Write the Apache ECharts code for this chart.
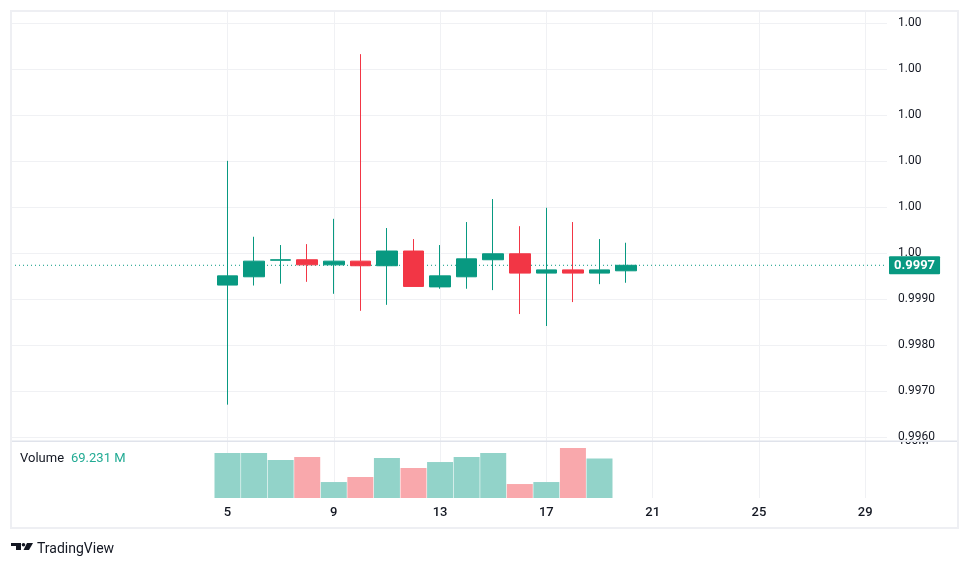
<!DOCTYPE html>
<html>
<head>
<meta charset="utf-8">
<script src="https://cdn.jsdelivr.net/npm/echarts@6/dist/echarts.min.js"></script>
<style>
  html, body { margin: 0; padding: 0; background: #ffffff; }
  #chart { width: 970px; height: 568px; }
</style>
</head>
<body>
<div id="chart"></div>
<script>
// daily candles (day of month)
const days   = [5, 6, 7, 8, 9, 10, 11, 12, 13, 14, 15, 16, 17, 18, 19, 20];
const opens  = [0.99931, 0.99949, 0.99985, 0.99986, 0.99975, 0.99983, 0.99973, 1.00005, 0.99927, 0.99949, 0.99986, 0.99999, 0.99957, 0.99964, 0.99957, 0.99962];
const closes = [0.99951, 0.99983, 0.99986, 0.99975, 0.99983, 0.99973, 1.00005, 0.99928, 0.99951, 0.99988, 0.99999, 0.99957, 0.99964, 0.99957, 0.99964, 0.99974];
const lows   = [0.99671, 0.99930, 0.99934, 0.99938, 0.99912, 0.99875, 0.99888, 0.99928, 0.99923, 0.99923, 0.99920, 0.99868, 0.99842, 0.99894, 0.99933, 0.99936];
const highs  = [1.00201, 1.00036, 1.00018, 1.00020, 1.00075, 1.00433, 1.00055, 1.00031, 1.00018, 1.00068, 1.00118, 1.00059, 1.00099, 1.00068, 1.00031, 1.00023];

// volume in millions (no bar on the last day)
const volumeDays = [5, 6, 7, 8, 9, 10, 11, 12, 13, 14, 15, 16, 17, 18, 19];
const volumes    = [78.9, 78.9, 66.6, 71.9, 28.0, 36.8, 70.1, 52.6, 63.1, 71.9, 78.9, 24.5, 28.0, 87.6, 69.231];

// axis ticks
const xTicks = [5, 9, 13, 17, 21, 25, 29];
const priceTicks = [0.996, 0.997, 0.998, 0.999, 1.000, 1.001, 1.002, 1.003, 1.004, 1.005];
const priceTickLabels = ['0.9960', '0.9970', '0.9980', '0.9990', '1.00', '1.00', '1.00', '1.00', '1.00', '1.00'];
const volumeTicks = [100];
const volumeTickLabels = ['100M'];

const X_MIN = -3.148;
const X_MAX = 29.82;

const UP = '#089981';
const DOWN = '#f23645';
const UP_VOL = '#92d3c9';
const DOWN_VOL = '#f9a8ac';
const GRID = '#f0f1f4';
const TEXT = '#131722';
const FONT = 'Roboto, "Noto Sans", sans-serif';

const chart = echarts.init(document.getElementById('chart'), null, { renderer: 'canvas' });

const candleData = days.map((d, i) => [d, opens[i], closes[i], lows[i], highs[i]]);
const volumeData = volumeDays.map((d, i) => {
  const k = days.indexOf(d);
  return {
    value: [d, volumes[i]],
    itemStyle: { color: closes[k] >= opens[k] ? UP_VOL : DOWN_VOL }
  };
});
const lastClose = closes[closes.length - 1];
const lastVolume = volumes[volumes.length - 1];

function labelFor(ticks, labels) {
  return function (v) {
    let best = 0;
    ticks.forEach((t, i) => { if (Math.abs(t - v) < Math.abs(ticks[best] - v)) best = i; });
    return labels[best];
  };
}

const option = {
  animation: false,
  backgroundColor: '#ffffff',
  textStyle: { fontFamily: FONT },
  grid: [
    { left: 11, right: 83, top: 11, height: 430 },
    { left: 11, right: 83, top: 441, height: 57 }
  ],
  xAxis: [
    {
      type: 'value', gridIndex: 0, min: X_MIN, max: X_MAX,
      axisLine: { show: false },
      axisTick: { show: false, customValues: xTicks },
      axisLabel: { show: false, customValues: xTicks },
      splitLine: { show: true, lineStyle: { color: GRID, width: 1 } }
    },
    {
      type: 'value', gridIndex: 1, min: X_MIN, max: X_MAX,
      axisLine: { show: false },
      axisTick: { show: false, customValues: xTicks },
      axisLabel: {
        customValues: xTicks, margin: 8, color: TEXT, fontSize: 13,
        fontWeight: 500, fontFamily: FONT
      },
      splitLine: { show: true, lineStyle: { color: GRID, width: 1 } }
    }
  ],
  yAxis: [
    {
      type: 'value', gridIndex: 0, position: 'right', z: 3,
      min: 0.99592, max: 1.005268,
      axisLine: { show: false },
      axisTick: { show: false, customValues: priceTicks },
      axisLabel: {
        customValues: priceTicks, formatter: labelFor(priceTicks, priceTickLabels),
        margin: 11, align: 'left', color: TEXT, fontSize: 12, fontFamily: FONT,
        lineHeight: 12, padding: [4, 0, 0, 0]
      },
      splitLine: { show: true, lineStyle: { color: GRID, width: 1 } }
    },
    {
      type: 'value', gridIndex: 1, position: 'right', z: 1,
      min: 0, max: 100,
      axisLine: { show: false },
      axisTick: { show: false, customValues: volumeTicks },
      axisLabel: {
        customValues: volumeTicks, formatter: labelFor(volumeTicks, volumeTickLabels),
        margin: 11, align: 'left', color: TEXT, fontSize: 12, fontFamily: FONT
      },
      splitLine: { show: false }
    }
  ],
  series: [
    {
      type: 'candlestick',
      xAxisIndex: 0, yAxisIndex: 0,
      data: candleData,
      encode: { x: 0, y: [1, 2, 3, 4] },
      barWidth: 21,
      itemStyle: {
        color: UP, color0: DOWN,
        borderColor: UP, borderColor0: DOWN, borderColorDoji: UP,
        borderWidth: 1
      },
      z: 3
    },
    {
      // last price line with its scale label
      type: 'line',
      xAxisIndex: 0, yAxisIndex: 0,
      data: [[X_MIN, lastClose], [X_MAX, lastClose]],
      symbol: 'none',
      silent: true,
      clip: false,
      z: 2,
      lineStyle: { color: UP, width: 1, type: [1, 3] },
      endLabel: {
        show: true, distance: 2,
        formatter: lastClose.toFixed(4),
        backgroundColor: UP, color: '#ffffff',
        fontSize: 13, fontWeight: 'bold', fontFamily: FONT,
        padding: [3, 5, 2, 5], borderRadius: 1
      }
    },
    {
      type: 'bar',
      xAxisIndex: 1, yAxisIndex: 1,
      data: volumeData,
      barWidth: 26,
      clip: false,
      markLine: {
        silent: true,
        symbol: ['none', 'none'],
        animation: false,
        data: [{ yAxis: lastVolume }],
        lineStyle: { opacity: 0 },
        label: {
          show: true, position: 'end', distance: 2,
          formatter: lastVolume.toFixed(3) + ' M',
          backgroundColor: '#22ab94', color: '#ffffff',
          fontSize: 13, fontWeight: 'bold', fontFamily: FONT,
          padding: [3, 5, 2, 5], borderRadius: 1
        }
      }
    }
  ],
  graphic: [
    // hides the top half of the volume scale label, like the pane edge does
    { type: 'rect', z: 2, silent: true, shape: { x: 888, y: 428, width: 69, height: 13 }, style: { fill: '#ffffff' } },
    // pane separator
    { type: 'rect', z: 4, silent: true, shape: { x: 11, y: 440.5, width: 947, height: 1.5 }, style: { fill: '#e0e3eb' } },
    // outer frame
    { type: 'rect', z: 4, silent: true, shape: { x: 11, y: 11, width: 947, height: 517 }, style: { fill: 'none', stroke: '#eeeff3', lineWidth: 2 } },
    // volume legend
    { type: 'text', z: 4, left: 20, top: 452, style: { text: 'Volume', fill: TEXT, font: '13px ' + FONT } },
    { type: 'text', z: 4, left: 71, top: 452, style: { text: lastVolume.toFixed(3) + ' M', fill: '#22ab94', font: '13px ' + FONT } },
    // TradingView mark
    { type: 'rect', z: 4, silent: true, shape: { x: 11, y: 543, width: 10, height: 3 }, style: { fill: TEXT } },
    { type: 'rect', z: 4, silent: true, shape: { x: 16, y: 543, width: 5, height: 7 }, style: { fill: TEXT } },
    { type: 'circle', z: 4, silent: true, shape: { cx: 23.5, cy: 544.8, r: 1.8 }, style: { fill: TEXT } },
    { type: 'polygon', z: 4, silent: true, shape: { points: [[27, 543], [33, 543], [29, 550], [23.5, 550]] }, style: { fill: TEXT } },
    { type: 'text', z: 4, left: 37, top: 542, style: { text: 'TradingView', fill: TEXT, font: '14px ' + FONT } }
  ]
};

chart.setOption(option);
</script>
</body>
</html>
